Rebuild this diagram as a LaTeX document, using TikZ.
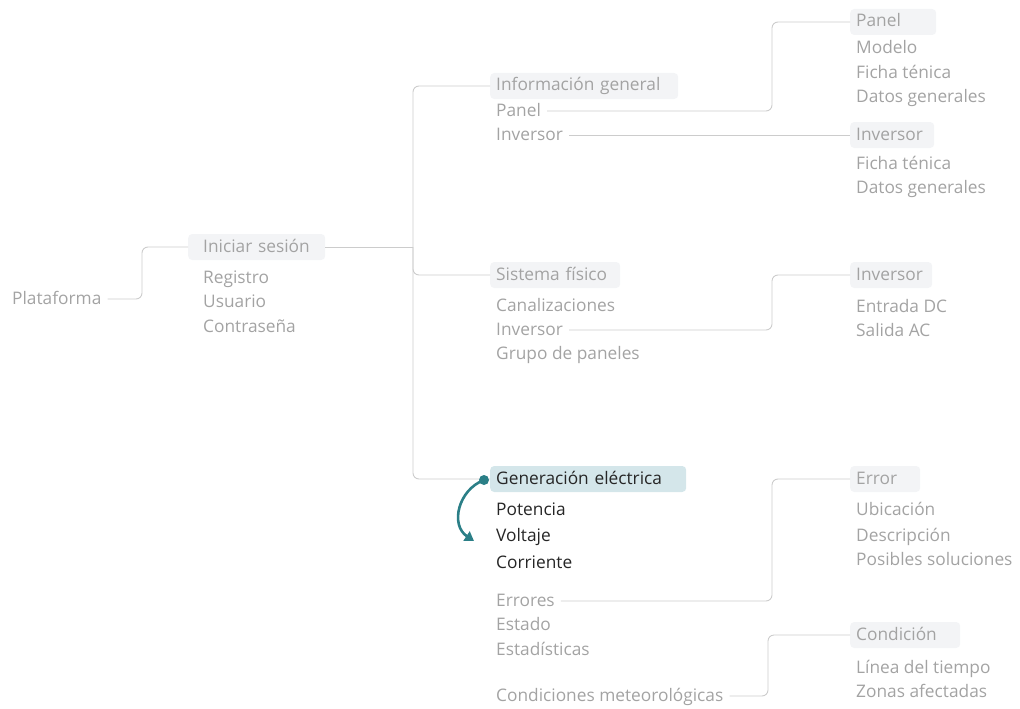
\documentclass[tikz,border=0pt]{standalone}
\usepackage{fontspec}
\setmainfont{Open Sans}
\usetikzlibrary{arrows.meta}
\definecolor{txtgray}{HTML}{A3A3A3}
\definecolor{linegray}{HTML}{CCCCCC}
\definecolor{boxfill}{HTML}{F3F4F6}
\definecolor{genfill}{HTML}{D4E6EA}
\definecolor{teal}{HTML}{2B7F87}
\definecolor{darktxt}{HTML}{262626}
\tikzset{
  base/.style={font=\fontsize{17.3}{20}\selectfont, text=txtgray, anchor=west, inner xsep=6pt, inner ysep=0pt, text height=13pt, text depth=3pt},
  item/.style={base},
  ditem/.style={base, text=darktxt},
  header/.style={base, fill=boxfill, rounded corners=4pt, inner ysep=5pt, align=left},
  genhead/.style={header, fill=genfill, text=darktxt},
  conn/.style={draw=linegray, line width=0.9pt, rounded corners=6pt},
}
\begin{document}
\begin{tikzpicture}[x=1pt,y=-1pt]
\useasboundingbox (0,0) rectangle (1020,709);
% level 0
\node[item] (plat) at (6,299) {Plataforma};
% level 1
\node[header, text width=107pt, inner xsep=15pt] (inic) at (188,247) {Iniciar sesión};
\node[item] (reg) at (197,278) {Registro};
\node[item] (usu) at (197,302) {Usuario};
\node[item] (con) at (197,327) {Contraseña};
% level 2
\node[header, text width=176pt] (info) at (490,86) {Información general};
\node[item] (ipanel) at (490,111) {Panel};
\node[item] (iinv) at (490,135) {Inversor};
\node[header, text width=118pt] (sis) at (490,275) {Sistema físico};
\node[item] (scan) at (490,306) {Canalizaciones};
\node[item] (sinv) at (490,330) {Inversor};
\node[item] (sgru) at (490,354) {Grupo de paneles};
\node[genhead, text width=184pt] (gen) at (490,479) {Generación eléctrica};
\node[ditem] (pot) at (490,510) {Potencia};
\node[ditem] (vol) at (490,536) {Voltaje};
\node[ditem] (cor) at (490,563) {Corriente};
\node[item] (err) at (490,601) {Errores};
\node[item] (est) at (490,625) {Estado};
\node[item] (esta) at (490,650) {Estadísticas};
\node[item] (cond) at (490,696) {Condiciones meteorológicas};
% level 3
\node[header, text width=74pt] (panel) at (850,22) {Panel};
\node[item] (pmod) at (850,49) {Modelo};
\node[item] (pfic) at (850,73) {Ficha ténica};
\node[item] (pdat) at (850,97) {Datos generales};
\node[header, text width=72pt] (inv1) at (850,135) {Inversor};
\node[item] (ific) at (850,164) {Ficha ténica};
\node[item] (idat) at (850,188) {Datos generales};
\node[header, text width=70pt] (inv2) at (850,275) {Inversor};
\node[item] (ient) at (850,307) {Entrada DC};
\node[item] (isal) at (850,331) {Salida AC};
\node[header, text width=58pt] (error) at (850,479) {Error};
\node[item] (eubi) at (850,510) {Ubicación};
\node[item] (edes) at (850,536) {Descripción};
\node[item] (epos) at (850,560) {Posibles soluciones};
\node[header, text width=98pt] (condi) at (850,635) {Condición};
\node[item] (clin) at (850,668) {Línea del tiempo};
\node[item] (czon) at (850,692) {Zonas afectadas};
% connectors
\coordinate (trunk) at (413,247);
\draw[conn] (plat.east) -- (142,299) |- (inic.west);
\draw[conn] (inic.east) -- (trunk);
\draw[conn] (trunk) |- (info.west);
\draw[conn] (trunk) |- (sis.west);
\draw[conn] (trunk) |- (gen.west);
\draw[conn] (ipanel.east) -- (772,111) |- (panel.west);
\draw[conn] (iinv.east) -- (inv1.west);
\draw[conn] (sinv.east) -- (772,330) |- (inv2.west);
\draw[conn] (err.east) -- (772,601) |- (error.west);
\draw[conn] (cond.east) -- (768,696) |- (condi.west);
% highlight arrow
\node[circle, fill=teal, inner sep=0pt, minimum size=10pt] (dot) at (484,480) {};
\coordinate (arrend) at (474,541);
\draw[teal, line width=2.6pt, -{Triangle[length=9pt,width=11pt]}] (dot.center) .. controls (458,490) and (450,525) .. (arrend);
\end{tikzpicture}
\end{document}
